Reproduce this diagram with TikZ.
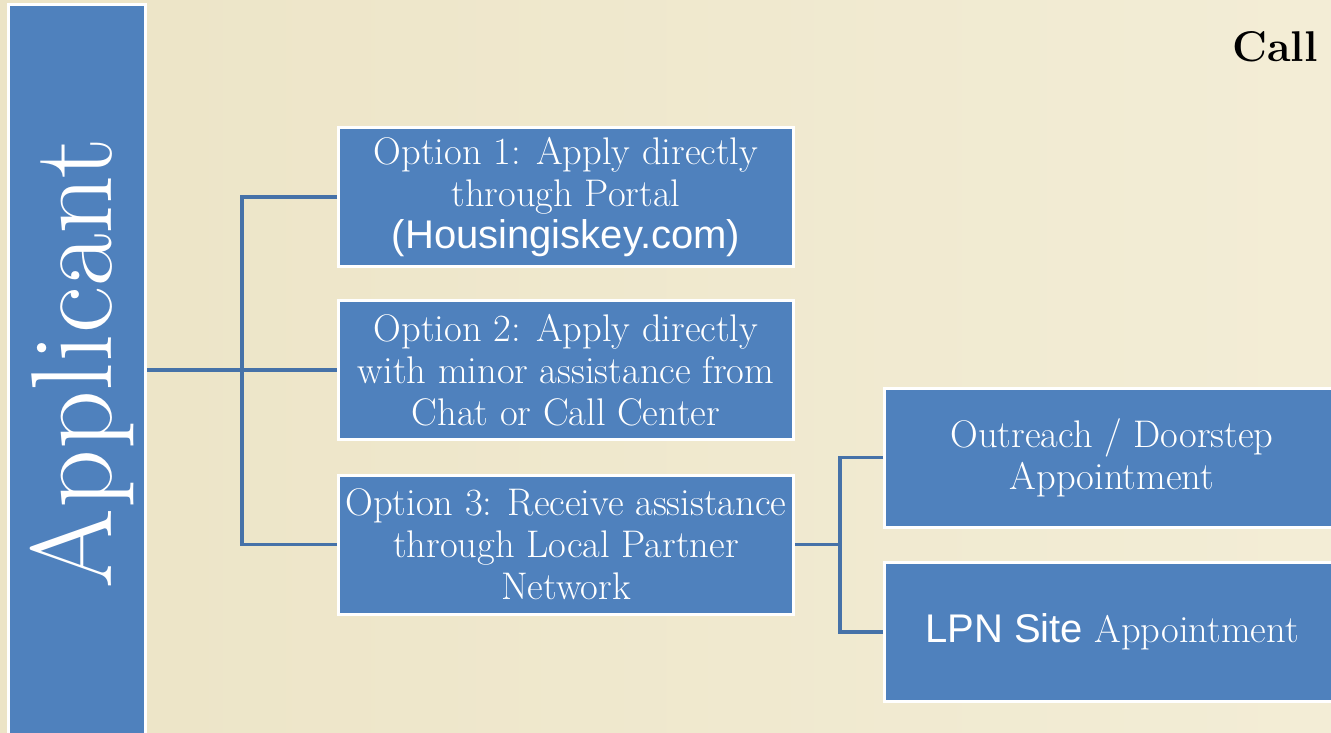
\documentclass[tikz,border=0pt]{standalone}
\usepackage{fontspec}
\newfontfamily\sansfont{Liberation Sans}
\begin{document}
\begin{tikzpicture}[x=1pt,y=-1pt,
  box/.style={draw=white,line width=3pt,fill=boxblue,rectangle,inner sep=0pt,
    minimum width=455pt,minimum height=139pt,text=white,align=center,
    font=\fontsize{38.5}{42}\selectfont},
  link/.style={draw=linkblue,line width=3.4pt}]
\definecolor{boxblue}{RGB}{79,129,189}
\definecolor{linkblue}{RGB}{70,114,168}
\definecolor{paperL}{RGB}{236,228,198}
\definecolor{paperR}{RGB}{243,237,214}
\newcommand{\sanstext}[1]{{\sansfont\fontsize{40}{42}\selectfont #1}}
\useasboundingbox (0,0) rectangle (1331,733);
\clip (0,0) rectangle (1331,733);
\shade[left color=paperL,right color=paperR] (0,0) rectangle (1331,733);

% left column
\node[box,minimum width=137pt,minimum height=745pt] (app) at (77,377) {};
\node[text=white,rotate=90,anchor=base,font=\fontsize{115}{115}\selectfont] (apptxt) at (111,363) {Applicant};

% options
\node[box] (o1) at (566,197) {Option 1: Apply directly\\through Portal\\\sanstext{(Housingiskey.com)}};
\node[box] (o2) at (566,370) {Option 2: Apply directly\\with minor assistance from\\Chat or Call Center};
\node[box] (o3) at (566,544.5) {Option 3: Receive assistance\\through Local Partner\\Network};

% appointments
\node[box] (out) at (1112,457.5) {Outreach / Doorstep\\Appointment};
\node[box] (lpn) at (1112,632) {\sanstext{LPN Site} Appointment};

\node[anchor=base east,font=\fontsize{43}{43}\selectfont\bfseries] (call) at (1321,62) {Call};

% connectors
\coordinate (j) at (242,371);
\coordinate (k) at (840,544);
\draw[link] (app.east |- o2.west) -- (o2.west);
\draw[link] (o1.west) -- (j |- o1.west) -- (j |- o3.west) -- (o3.west);
\draw[link] (o3.east) -- (k |- o3.east);
\draw[link] (out.west) -- (k |- out.west) -- (k |- lpn.west) -- (lpn.west);
\end{tikzpicture}
\end{document}
